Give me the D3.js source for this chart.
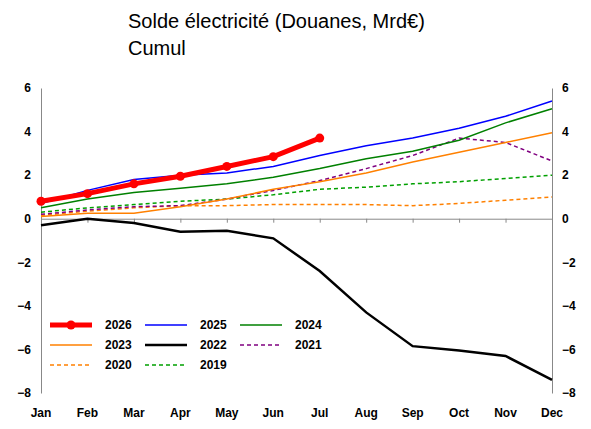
<!DOCTYPE html>
<html><head><meta charset="utf-8">
<script src="https://cdn.jsdelivr.net/npm/d3@7"></script>
<style>body{margin:0;background:#fff}text{font-family:Arial,"Liberation Sans",sans-serif}</style>
</head><body><div id="chart"></div>
<script>
const months = ["Jan","Feb","Mar","Apr","May","Jun","Jul","Aug","Sep","Oct","Nov","Dec"];
const s2026 = [0.8,1.15,1.6,1.95,2.4,2.85,3.7];
const s2025 = [0.7,1.3,1.8,2.0,2.1,2.4,2.9,3.35,3.7,4.15,4.7,5.4];
const s2024 = [0.5,0.9,1.2,1.4,1.6,1.9,2.3,2.75,3.1,3.6,4.4,5.05];
const s2023 = [0.1,0.25,0.25,0.55,0.9,1.35,1.7,2.1,2.6,3.05,3.5,3.95];
const s2022 = [-0.3,0.0,-0.2,-0.6,-0.55,-0.9,-2.4,-4.3,-5.85,-6.05,-6.3,-7.4];
const s2021 = [0.2,0.4,0.55,0.6,0.9,1.3,1.75,2.3,2.9,3.7,3.5,2.65];
const s2020 = [0.15,0.35,0.5,0.6,0.6,0.65,0.65,0.65,0.6,0.7,0.85,1.0];
const s2019 = [0.3,0.5,0.65,0.8,0.9,1.1,1.35,1.45,1.6,1.7,1.85,2.0];
const yTicks = [6,4,2,0,-2,-4,-6,-8];

const series = [
  {name:"2019", data:s2019, color:"#00a000", w:1.5, dash:"4,3"},
  {name:"2020", data:s2020, color:"#ff8000", w:1.5, dash:"4,3"},
  {name:"2021", data:s2021, color:"#800080", w:1.5, dash:"4,3"},
  {name:"2022", data:s2022, color:"#000000", w:2.5},
  {name:"2023", data:s2023, color:"#ff8000", w:1.5},
  {name:"2024", data:s2024, color:"#008000", w:1.5},
  {name:"2025", data:s2025, color:"#0000ff", w:1.5},
  {name:"2026", data:s2026, color:"#ff0000", w:5, marker:true}
];

const svg = d3.select("#chart").append("svg").attr("width",591).attr("height",429);
const x = d3.scalePoint().domain(months).range([41,552]);
const y = d3.scaleLinear().domain([-8,6]).range([393,88]);

svg.append("text").attr("x",128).attr("y",28).attr("font-size",20).text("Solde électricité (Douanes, Mrd€)");
svg.append("text").attr("x",128).attr("y",55).attr("font-size",20).text("Cumul");

svg.append("g").attr("transform","translate(41,0)")
  .call(d3.axisLeft(y).tickValues(yTicks).tickSize(0).tickPadding(10))
  .call(g=>g.select(".domain").attr("stroke","#888"))
  .call(g=>g.selectAll("text").attr("font-size",12).attr("font-weight","bold").attr("font-family","Arial"));
svg.append("g").attr("transform","translate(552,0)")
  .call(d3.axisRight(y).tickValues(yTicks).tickSize(0).tickPadding(10))
  .call(g=>g.select(".domain").attr("stroke","#888"))
  .call(g=>g.selectAll("text").attr("font-size",12).attr("font-weight","bold").attr("font-family","Arial"));
svg.append("g").attr("transform","translate(0,"+y(0)+")")
  .call(d3.axisBottom(x).tickSize(4).tickFormat(""))
  .call(g=>g.select(".domain").attr("stroke","#888"))
  .call(g=>g.selectAll("line").attr("stroke","#888"));
svg.append("g").selectAll("text").data(months).enter().append("text")
  .attr("x",d=>x(d)).attr("y",417).attr("text-anchor","middle")
  .attr("font-size",12).attr("font-weight","bold").text(d=>d);

const line = d3.line().x((d,i)=>x(months[i])).y(d=>y(d));
series.forEach(s=>{
  svg.append("path").datum(s.data).attr("d",line).attr("fill","none")
    .attr("stroke",s.color).attr("stroke-width",s.w).attr("stroke-dasharray",s.dash||null);
  if(s.marker){
    svg.selectAll(null).data(s.data).enter().append("circle")
      .attr("cx",(d,i)=>x(months[i])).attr("cy",d=>y(d)).attr("r",4.5).attr("fill",s.color);
  }
});

// legend
const leg = [["2026",0,0],["2025",1,0],["2024",2,0],["2023",0,1],["2022",1,1],["2021",2,1],["2020",0,2],["2019",1,2]];
leg.forEach(([n,c,r])=>{
  const s = series.find(d=>d.name===n);
  const lx = 50 + c*95, ly = 325 + r*20;
  svg.append("line").attr("x1",lx).attr("x2",lx+42).attr("y1",ly).attr("y2",ly)
    .attr("stroke",s.color).attr("stroke-width",s.w).attr("stroke-dasharray",s.dash||null);
  if(s.marker) svg.append("circle").attr("cx",lx+21).attr("cy",ly).attr("r",4.5).attr("fill",s.color);
  svg.append("text").attr("x",lx+55).attr("y",ly+4).attr("font-size",12).attr("font-weight","bold").text(n);
});
</script></body></html>
